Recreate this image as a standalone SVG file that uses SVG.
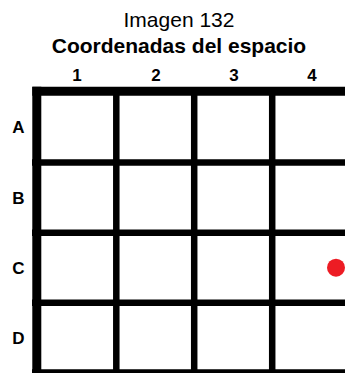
<svg xmlns="http://www.w3.org/2000/svg" width="345" height="373" viewBox="0 0 345 373">
<style>
text{font-family:"Liberation Sans",Arial,sans-serif;fill:#000}
.t{font-size:21px;text-anchor:middle}
.tb{font-size:21px;font-weight:bold;text-anchor:middle}
.lbl{font-size:17px;font-weight:bold;text-anchor:middle}
.thick{stroke:#000;stroke-width:9}
.thin{stroke:#000;stroke-width:6.5}
</style>
<rect width="345" height="373" fill="#fff"/>
<g id="title">
<text class="t" x="179" y="26.5">Imagen 132</text>
<text class="tb" x="179" y="52.5">Coordenadas del espacio</text>
</g>
<g id="col-labels">
<text class="lbl" x="77" y="80.5">1</text>
<text class="lbl" x="156" y="80.5">2</text>
<text class="lbl" x="234" y="80.5">3</text>
<text class="lbl" x="312" y="80.5">4</text>
</g>
<g id="row-labels">
<text class="lbl" x="18.5" y="133">A</text>
<text class="lbl" x="18.5" y="203.5">B</text>
<text class="lbl" x="18.5" y="273.5">C</text>
<text class="lbl" x="18.5" y="343.5">D</text>
</g>
<g id="grid">
<line class="thin" x1="32" y1="162.5" x2="345" y2="162.5"/>
<line class="thin" x1="32" y1="232.8" x2="345" y2="232.8"/>
<line class="thin" x1="32" y1="302.7" x2="345" y2="302.7"/>
<line class="thin" x1="32" y1="372.5" x2="345" y2="372.5"/>
<line class="thin" x1="116.3" y1="87" x2="116.3" y2="373"/>
<line class="thin" x1="194.2" y1="87" x2="194.2" y2="373"/>
<line class="thin" x1="272.2" y1="87" x2="272.2" y2="373"/>
<line class="thick" x1="32.3" y1="91.2" x2="345" y2="91.2"/>
<line class="thick" x1="36.8" y1="86.7" x2="36.8" y2="373"/>
</g>
<g id="point">
<circle cx="336" cy="267.7" r="9" fill="#ed1c24"/>
</g>
</svg>
